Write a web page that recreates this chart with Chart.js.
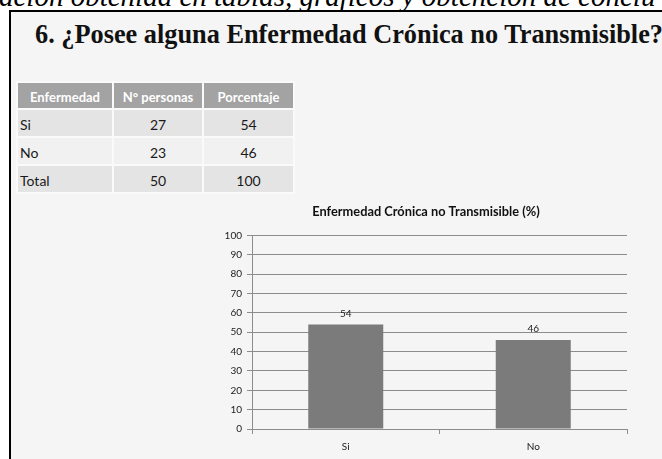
<!DOCTYPE html>
<html>
<head>
<meta charset="utf-8">
<script src="https://cdn.jsdelivr.net/npm/chart.js@4.4.1/dist/chart.umd.min.js"></script>
<style>
  body { margin: 0; width: 662px; height: 459px; overflow: hidden; background: #fff; position: relative; }
  .top { position: absolute; left: -1px; top: -18px; font-family: "Liberation Serif", "Times New Roman", Times, serif; font-style: italic; font-size: 29px; line-height: 29px; white-space: nowrap; color: #000; }
  .box { position: absolute; left: 9px; top: 10px; width: 700px; height: 500px; border-left: 2px solid #000; border-top: 2px solid #000; background: #f5f5f5; }
  h1 { position: absolute; left: 35px; top: 22px; margin: 0; font: bold 26.3px/26px "Liberation Serif", serif; white-space: nowrap; color: #111; }
  table { position: absolute; left: 16px; top: 81px; width: 277px; table-layout: fixed; border-collapse: collapse; font: 14px "Lato", sans-serif; color: #1a1a1a; }
  td, th { box-sizing: border-box; border: 2px solid #fafafa; padding: 0 2px 3px 2px; vertical-align: bottom; overflow: hidden; white-space: nowrap; }
  th { background: #a3a3a3; color: #fff; font-weight: bold; font-size: 13px; height: 27px; }
  td { height: 28px; text-align: center; }
  td.lab { text-align: left; }
  tr.odd td { background: #e4e4e4; }
  tr.even td { background: #f1f1f1; }
  #wrap { position: absolute; left: 200px; top: 200px; }
</style>
</head>
<body>
<div class="top">ación obtenida en tablas, gráficos y obtención de conclu</div>
<div class="box"></div>
<h1>6. ¿Posee alguna Enfermedad Crónica no Transmisible?</h1>
<table id="tabla"></table>
<div id="wrap"><canvas id="grafico" width="462" height="259"></canvas></div>
<script>
// datos
const encabezados = ['Enfermedad', 'N° personas', 'Porcentaje'];
const categorias = ['Si', 'No'];
const personas = [27, 23];
const porcentaje = [54, 46];
const totalPersonas = 50;
const totalPorcentaje = 100;

// tabla
const anchos = [96, 90, 91];
const tabla = document.getElementById('tabla');
let html = '<tr>' + encabezados.map((h, i) => '<th style="width:' + anchos[i] + 'px">' + h + '</th>').join('') + '</tr>';
categorias.forEach((c, i) => {
  html += '<tr class="' + (i % 2 === 0 ? 'odd' : 'even') + '"><td class="lab">' + c + '</td><td>' + personas[i] + '</td><td>' + porcentaje[i] + '</td></tr>';
});
html += '<tr class="odd"><td class="lab">Total</td><td>' + totalPersonas + '</td><td>' + totalPorcentaje + '</td></tr>';
tabla.innerHTML = html;

// etiquetas sobre las barras
const etiquetas = {
  id: 'etiquetas',
  afterDatasetsDraw(chart) {
    const ctx = chart.ctx;
    ctx.save();
    ctx.font = '10px Lato, sans-serif';
    ctx.fillStyle = '#222';
    ctx.textAlign = 'center';
    ctx.textBaseline = 'middle';
    chart.getDatasetMeta(0).data.forEach((bar, i) => {
      ctx.fillText(chart.data.datasets[0].data[i], bar.x, bar.y - 11);
    });
    ctx.restore();
  }
};

const ctx = document.getElementById('grafico').getContext('2d');
new Chart(ctx, {
  type: 'bar',
  data: {
    labels: categorias,
    datasets: [{
      data: porcentaje,
      backgroundColor: '#7b7b7b',
      borderWidth: 0,
      barPercentage: 0.4,
      categoryPercentage: 1.0
    }]
  },
  options: {
    responsive: false,
    animation: false,
    layout: { padding: { right: 35, left: 25, top: 0, bottom: 0 } },
    plugins: {
      legend: { display: false },
      tooltip: { enabled: false },
      title: {
        display: true,
        text: 'Enfermedad Crónica no Transmisible (%)',
        color: '#111',
        font: { family: 'Lato', size: 12.8, weight: 'bold', lineHeight: 1.05 },
        padding: { top: 5, bottom: 17 }
      }
    },
    scales: {
      y: {
        min: 0,
        max: 100,
        ticks: { stepSize: 10, color: '#222', font: { family: 'Lato', size: 10 }, padding: 5 },
        grid: { color: '#8c8c8c', tickLength: 5 },
        border: { color: '#8c8c8c' },
        afterFit(scale) { scale.width = 27; }
      },
      x: {
        offset: true,
        ticks: { color: '#222', font: { family: 'Lato', size: 10 }, padding: 7 },
        grid: { offset: true, drawOnChartArea: false, color: '#8c8c8c', tickLength: 5 },
        border: { color: '#8c8c8c' },
        afterFit(scale) { scale.height = 30; }
      }
    }
  },
  plugins: [etiquetas]
});
</script>
</body>
</html>
